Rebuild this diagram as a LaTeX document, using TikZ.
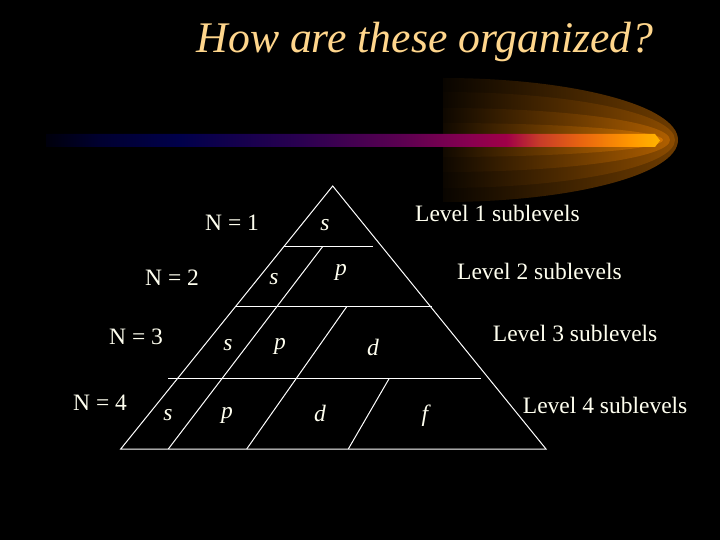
\documentclass[tikz,border=0pt]{standalone}
\usepackage{fontspec}
\setmainfont{Liberation Serif}
\definecolor{txt}{RGB}{255,255,240}
\definecolor{ttl}{RGB}{255,214,140}
\definecolor{b0}{RGB}{0,0,12}
\definecolor{b1}{RGB}{0,0,48}
\definecolor{b2}{RGB}{0,0,74}
\definecolor{b3}{RGB}{42,0,80}
\definecolor{b4}{RGB}{90,0,80}
\definecolor{b5}{RGB}{136,0,80}
\definecolor{b6}{RGB}{160,0,72}
\definecolor{b7}{RGB}{200,60,40}
\definecolor{b8}{RGB}{232,100,16}
\definecolor{b9}{RGB}{255,152,0}
\definecolor{b10}{RGB}{255,180,0}
\definecolor{g1}{RGB}{110,60,0}
\definecolor{g2}{RGB}{140,76,0}
\definecolor{g3}{RGB}{175,95,0}
\definecolor{g4}{RGB}{210,115,0}
\pgfdeclarehorizontalshading{barshade}{100bp}{color(0bp)=(b0); color(25bp)=(b0); color(29.4bp)=(b1); color(35.9bp)=(b2); color(45.7bp)=(b3); color(53.8bp)=(b4); color(59.5bp)=(b5); color(62.5bp)=(b6); color(65.2bp)=(b7); color(68.5bp)=(b8); color(72.6bp)=(b9); color(75bp)=(b10); color(100bp)=(b10)}
\tikzset{
  lbl/.style={text=txt, font=\fontsize{23.5}{28}\selectfont, inner sep=0, anchor=west},
  orb/.style={text=txt, font=\fontsize{23.5}{28}\selectfont\itshape, inner sep=0},
  ln/.style={draw=white, line width=1pt},
  glow/.style={left color=#1!8!black, middle color=#1!85!black, right color=#1}
}
\begin{document}
\begin{tikzpicture}[x=1pt,y=-1pt]
\fill[black] (0,0) rectangle (720,540);
\useasboundingbox (0,0) rectangle (720,540);
% glow
\shade[glow=g1] (443,202) arc[start angle=90, end angle=-90, x radius=235, y radius=62] -- cycle;
\shade[glow=g2] (443,188) arc[start angle=90, end angle=-90, x radius=232, y radius=48] -- cycle;
\shade[glow=g3] (443,172) arc[start angle=90, end angle=-90, x radius=227, y radius=32] -- cycle;
\shade[glow=g4] (443,157) arc[start angle=90, end angle=-90, x radius=220, y radius=17] -- cycle;
% bar
\shade[shading=barshade] (46,134) -- (655,134) -- (660,140.5) -- (655,147) -- (46,147) -- cycle;
% title
\node[text=ttl, font=\fontsize{43.7}{50}\selectfont\itshape, inner sep=0] (title) at (425,42) {How are these organized?};
% triangle
\coordinate (A) at (332.7,186);
\coordinate (BL) at (120.7,449);
\coordinate (BR) at (546,449);
\coordinate (h1a) at (284,246.5);
\coordinate (h1b) at (372.7,246.5);
\coordinate (h2a) at (235,306.7);
\coordinate (h2b) at (432.3,306.7);
\coordinate (h3a) at (168.3,378.3);
\coordinate (h3b) at (480.7,378.3);
\coordinate (d1a) at (322.7,246.5);
\coordinate (d1b) at (168.3,449);
\coordinate (d2a) at (346.7,306.7);
\coordinate (d2b) at (246.7,449);
\coordinate (d3a) at (389.3,378.3);
\coordinate (d3b) at (348.3,449);
\draw[ln] (BL) -- (A) -- (BR) -- cycle;
\draw[ln] (h1a) -- (h1b);
\draw[ln] (h2a) -- (h2b);
\draw[ln] (h3a) -- (h3b);
\draw[ln] (d1a) -- (d1b);
\draw[ln] (d2a) -- (d2b);
\draw[ln] (d3a) -- (d3b);
% orbital letters
\node[orb] (s1) at (325,225) {s};
\node[orb] (s2) at (274,279) {s};
\node[orb] (p2) at (341,272) {p};
\node[orb] (s3) at (228,345) {s};
\node[orb] (p3) at (280,346) {p};
\node[orb] (d3) at (373,347) {d};
\node[orb] (s4) at (168,415) {s};
\node[orb] (p4) at (227,415) {p};
\node[orb] (d4) at (320,413) {d};
\node[orb] (f4) at (425,416) {f};
% N labels
\node[lbl] (n1) at (205,223) {N = 1};
\node[lbl] (n2) at (145,278) {N = 2};
\node[lbl] (n3) at (109,337) {N = 3};
\node[lbl] (n4) at (73,403) {N = 4};
% level labels
\node[lbl] (l1) at (415,213) {Level 1 sublevels};
\node[lbl] (l2) at (457,271) {Level 2 sublevels};
\node[lbl] (l3) at (492.7,333) {Level 3 sublevels};
\node[lbl] (l4) at (522.7,405.7) {Level 4 sublevels};
\end{tikzpicture}
\end{document}
